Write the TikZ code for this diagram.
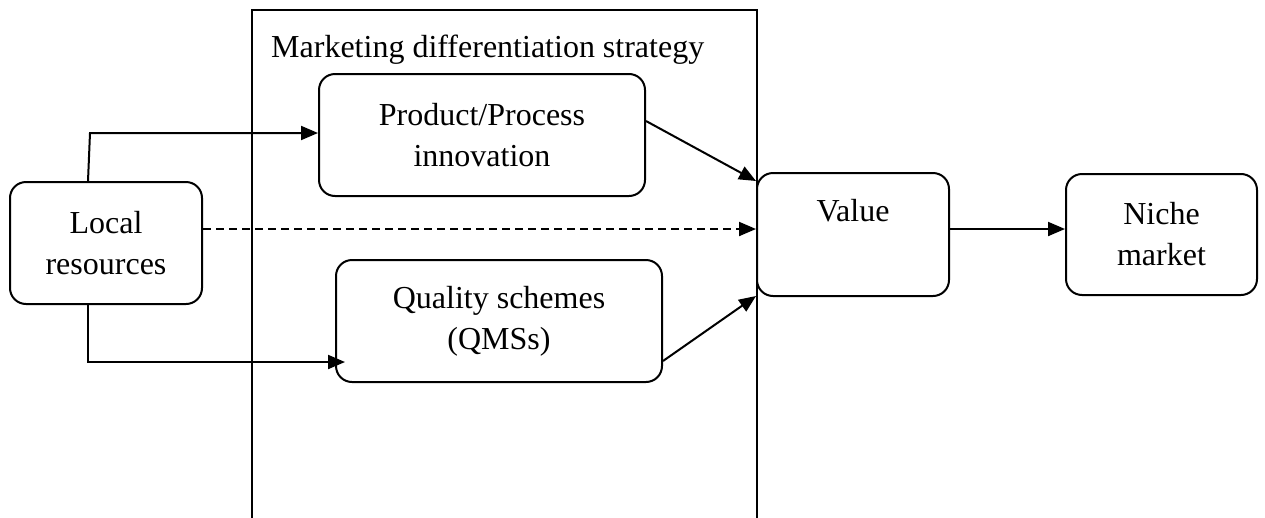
\documentclass[tikz,border=0pt]{standalone}
\usepackage{fontspec}
\setmainfont{Liberation Serif}
\usetikzlibrary{arrows.meta}
\begin{document}
\begin{tikzpicture}[x=1pt,y=-1pt,
  every node/.style={font=\fontsize{32}{41}\selectfont},
  rbox/.style={draw,line width=2pt,rounded corners=16pt,align=center,inner sep=0pt},
  link/.style={line width=2pt,-{Triangle[length=17pt,width=14pt]}},
  plain/.style={line width=2pt}]
\useasboundingbox (0,0) rectangle (1265,517);
% big frame
\coordinate (f1) at (252,520);
\coordinate (f2) at (252,10);
\coordinate (f3) at (757,10);
\coordinate (f4) at (757,520);
\draw[plain] (f1) -- (f2) -- (f3) -- (f4);
\node[anchor=base west,inner sep=0pt] (title) at (271,57) {Marketing differentiation strategy};
% boxes
\node[rbox,minimum width=192pt,minimum height=122pt] (local) at (106,243) {Local\\resources};
\node[rbox,minimum width=326pt,minimum height=122pt] (prod) at (482,135) {Product/Process\\innovation};
\node[rbox,minimum width=326pt,minimum height=122pt] (qual) at (499,321) {Quality schemes\\(QMSs)};
\node[rbox,minimum width=192pt,minimum height=123pt] (value) at (853,234.5) {Value\\[8pt]~};
\node[rbox,minimum width=191pt,minimum height=121pt] (niche) at (1161.5,234.5) {Niche\\market};
% connectors
\coordinate (c1) at (90,133);
\draw[link] ([xshift=-18pt]local.north) -- (c1) -- (c1 -| prod.west);
\coordinate (c2) at (88,362);
\coordinate (qin) at (345,362);
\draw[link] ([xshift=-18pt]local.south) -- (c2) -- (qin);
\draw[link,dash pattern=on 8pt off 5pt] ([yshift=14pt]local.east) -- ([yshift=5.5pt]value.west);
\draw[link] ([yshift=14pt]prod.east) -- ([yshift=-9pt]value.north west);
\draw[link] ([yshift=-40pt]qual.east) -- ([yshift=1pt]value.south west);
\draw[link] ([yshift=5.5pt]value.east) -- ([yshift=5.5pt]niche.west);
\end{tikzpicture}
\end{document}
